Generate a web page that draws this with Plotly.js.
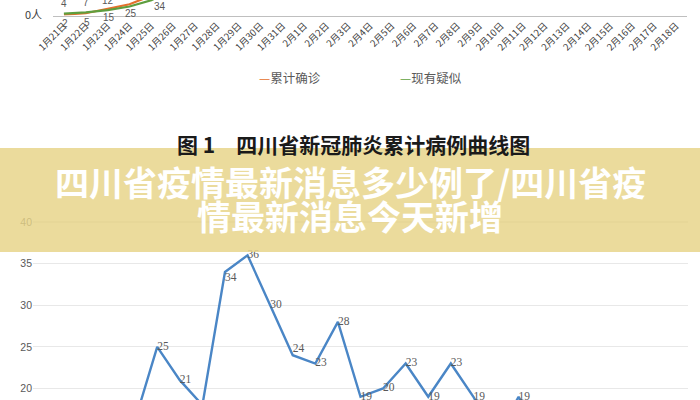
<!DOCTYPE html>
<html>
<head>
<meta charset="utf-8">
<script src="https://cdn.plot.ly/plotly-3.0.1.min.js"></script>
<style>html,body{margin:0;padding:0;background:#fff;}#chart{width:700px;height:400px;}</style>
</head>
<body>
<div id="chart"></div>
<script>
// ---- data ----
const dates = ['1月21日','1月22日','1月23日','1月24日','1月25日','1月26日','1月27日','1月28日','1月29日','1月30日','1月31日','2月1日','2月2日','2月3日','2月4日','2月5日','2月6日','2月7日','2月8日','2月9日','2月10日','2月11日','2月12日','2月13日','2月14日','2月15日','2月16日','2月17日','2月18日'];
// top chart (cut off at the top of the picture)
const confirmedCum = [2,5,15,25,44,69,90,108,142,177,207,231,254,282,301,321,344,363,386,405,417,436,451,463,470,481,495,508,514];
const suspectedNow = [4,7,12,20,34,58];
// which data labels of the top chart are still inside the picture
const confirmedLabelShown = [true,true,true,true];
const suspectedLabelShown = [true,true,true,false,true];
// bottom chart (only the part above 18.5 is visible)
const dailyValues = [null,null,null,null,16,25,21,18,34,36,30,24,23,28,19,20,23,19,23,19,14,19,14,null,null,null,null,null,null];
const dailyLabelPos = ['middle right','middle right','middle right','middle right','middle right','middle right','middle right','middle right','bottom right','middle right','middle right','top right','middle right','middle right','middle right','middle right','middle right','middle right','middle right','middle right','middle right','middle right','middle right','middle right','middle right','middle right','middle right','middle right','middle right'];
const dailyVisibleMin = 19;
const legendNames = ['累计确诊','现有疑似'];
const captionText = '图 1　四川省新冠肺炎累计病例曲线图';
const bannerLine1 = '四川省疫情最新消息多少例了/四川省疫';
const bannerLine2 = '情最新消息今天新增';
const yTopTicks = [0], yTopTickText = ['0人'];
const yBottomTicks = [20,25,30,35,40];

const orange = '#E4702C', green = '#5E9E3E', blue = '#4A86C6';
const W = 700, H = 400;
const px = v => v / W, py = v => 1 - v / H;

const traces = [
  {x: dates, y: confirmedCum, type: 'scatter', mode: 'lines', name: legendNames[0],
   line: {color: orange, width: 2.2}, cliponaxis: true,
   xaxis: 'x', yaxis: 'y', showlegend: false, hoverinfo: 'skip'},
  {x: dates.slice(0, suspectedNow.length), y: suspectedNow, type: 'scatter', mode: 'lines', name: legendNames[1],
   line: {color: green, width: 2.2}, cliponaxis: true,
   xaxis: 'x', yaxis: 'y', showlegend: false, hoverinfo: 'skip'},
  {x: dates, y: dailyValues, type: 'scatter', mode: 'lines+text', name: '每日',
   line: {color: blue, width: 2.4},
   text: dailyValues.map(v => (v == null || v < dailyVisibleMin) ? '' : String(v)),
   textposition: dailyLabelPos, textfont: {family: 'Liberation Serif, Times New Roman', size: 11.5, color: '#595959'},
   xaxis: 'x2', yaxis: 'y2', showlegend: false, hoverinfo: 'skip', connectgaps: false}
];

// data labels of the top chart as annotations (orange below the line, green above)
const labelFont = {family: 'Liberation Sans, Arial', size: 10, color: '#595959'};
const topLabels = [];
confirmedCum.forEach((v, i) => {
  if (confirmedLabelShown[i]) topLabels.push({xref: 'x', yref: 'y', x: dates[i], y: v, text: String(v),
    showarrow: false, yshift: -9, xshift: 1, font: labelFont});
});
suspectedNow.forEach((v, i) => {
  if (suspectedLabelShown[i]) {
    const last = i === 4;
    topLabels.push({xref: 'x', yref: 'y', x: dates[i], y: v, text: String(v), showarrow: false,
      yshift: last ? -6 : 10, xshift: last ? 9 : 0, font: labelFont});
  }
});

const layout = {
  width: W, height: H,
  margin: {l: 0, r: 0, t: 0, b: 0},
  paper_bgcolor: '#ffffff', plot_bgcolor: 'rgba(0,0,0,0)',
  showlegend: false,
  xaxis: {domain: [px(53), px(687)], type: 'category', range: [-0.5, 28.5], anchor: 'y',
    showline: true, linecolor: '#BFBFBF', linewidth: 1, showgrid: false, zeroline: false,
    tickangle: -45, ticks: '', tickfont: {family: 'Noto Sans CJK SC, Liberation Sans', size: 9.5, color: '#404040'},
    automargin: false, fixedrange: true},
  yaxis: {domain: [py(15.5), 1], range: [0, 15.5 / 0.45], anchor: 'x',
    tickvals: yTopTicks, ticktext: yTopTickText, showgrid: false, zeroline: false, showline: false,
    ticklabelstandoff: 10,
    tickfont: {family: 'Noto Sans CJK SC, Liberation Sans', size: 11, color: '#404040'}, automargin: false},
  xaxis2: {domain: [px(33), px(688)], type: 'category', range: [-0.5, 28.5], anchor: 'y2',
    showline: false, showgrid: false, zeroline: false, showticklabels: false, automargin: false},
  yaxis2: {domain: [0, py(205)], range: [20 - 11.5 / 8.3, 40 + 17 / 8.3], anchor: 'x2',
    tickvals: yBottomTicks, showgrid: true, gridcolor: '#E8E8E8', gridwidth: 1.2, zeroline: false, showline: false,
    tickfont: {family: 'Liberation Sans, Arial', size: 10.5, color: '#595959'}, automargin: false},
  shapes: [
    {type: 'rect', xref: 'paper', yref: 'paper', x0: 0, x1: 1, y0: py(252), y1: py(148),
     fillcolor: 'rgba(231,211,134,0.82)', line: {width: 0}, layer: 'above'}
  ],
  annotations: topLabels.concat([
    {xref: 'paper', yref: 'paper', x: px(290), y: py(66), showarrow: false,
     text: '<span style="color:' + orange + '">—</span>' + legendNames[0],
     font: {family: 'Noto Sans CJK SC', size: 12.5, color: '#595959'}},
    {xref: 'paper', yref: 'paper', x: px(431), y: py(66), showarrow: false,
     text: '<span style="color:' + green + '">—</span>' + legendNames[1],
     font: {family: 'Noto Sans CJK SC', size: 12.5, color: '#595959'}},
    {xref: 'paper', yref: 'paper', x: px(354), y: py(127), showarrow: false, text: '<b>' + captionText + '</b>',
     font: {family: 'Noto Sans CJK SC', size: 21, color: '#1a1a1a'}},
    {xref: 'paper', yref: 'paper', x: 0.5, y: py(181), showarrow: false, text: '<b>' + bannerLine1 + '</b>',
     font: {family: 'Noto Sans CJK SC', size: 34, color: '#ffffff'}},
    {xref: 'paper', yref: 'paper', x: 0.5, y: py(215), showarrow: false, text: '<b>' + bannerLine2 + '</b>',
     font: {family: 'Noto Sans CJK SC', size: 34, color: '#ffffff'}}
  ])
};

Plotly.newPlot('chart', traces, layout, {displayModeBar: false, staticPlot: true});
</script>
</body>
</html>
